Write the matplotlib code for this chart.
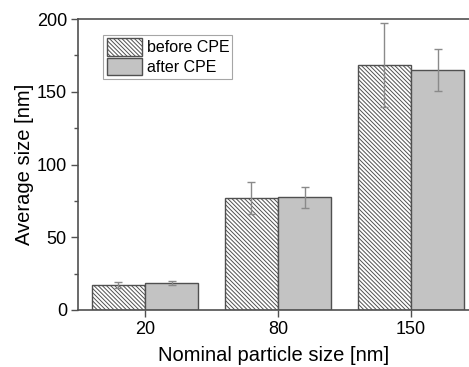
import matplotlib.pyplot as plt
import numpy as np

plt.rcParams['font.family'] = ['Liberation Sans', 'DejaVu Sans']
plt.rcParams['hatch.color'] = '#707070'
plt.rcParams['hatch.linewidth'] = 0.7

categories = ["20", "80", "150"]
before_cpe = [17.2, 77.0, 168.4]
before_err = [1.8, 11.0, 29.0]
after_cpe = [18.3, 77.4, 165.0]
after_err = [1.4, 7.0, 14.2]

fig = plt.figure(figsize=(4.69, 3.67), dpi=100)
ax = fig.add_axes([78 / 469, 57 / 367, 391 / 469, 291 / 367])

x = np.arange(len(categories))
w = 0.4
edge = '#505050'
ax.bar(x - w / 2, before_cpe, w, color='white', edgecolor=edge, hatch='\\' * 8,
       linewidth=1.0, label='before CPE')
ax.bar(x + w / 2, after_cpe, w, color='#c3c3c3', edgecolor=edge,
       linewidth=1.0, label='after CPE')
ax.errorbar(x - w / 2, before_cpe, yerr=before_err, fmt='none', ecolor='#8a8a8a',
            elinewidth=1.0, capsize=3, capthick=1.0)
ax.errorbar(x + w / 2, after_cpe, yerr=after_err, fmt='none', ecolor='#8a8a8a',
            elinewidth=1.0, capsize=3, capthick=1.0)

ax.set_xlim(-0.504, 2.436)
ax.set_ylim(0, 200)
ax.set_xticks(x)
ax.set_xticklabels(categories)
ax.set_yticks([0, 50, 100, 150, 200])
ax.set_yticks([25, 75, 125, 175], minor=True)
ax.tick_params(axis='both', which='major', labelsize=13, length=5, width=1.0,
               color='#505050', direction='out', pad=3)
ax.tick_params(axis='y', which='minor', length=3, width=1.0, color='#505050')
ax.spines['right'].set_visible(False)
for s in ['left', 'bottom', 'top']:
    ax.spines[s].set_color('#505050')
    ax.spines[s].set_linewidth(1.2)

ax.set_xlabel('Nominal particle size [nm]', fontsize=14.5)
ax.set_ylabel('Average size [nm]', fontsize=14.5)
ax.xaxis.set_label_coords(0.5, -0.125)
ax.yaxis.set_label_coords(-0.112, 0.5)

leg = ax.legend(loc='upper left', bbox_to_anchor=(0.065, 0.945), fontsize=11.5,
                frameon=True, fancybox=False, edgecolor='#909090',
                handlelength=2.2, handleheight=1.3, handletextpad=0.3,
                labelspacing=0.15, borderpad=0.2, borderaxespad=0)
leg.get_frame().set_linewidth(0.8)

fig.savefig('out.png', dpi=100)
